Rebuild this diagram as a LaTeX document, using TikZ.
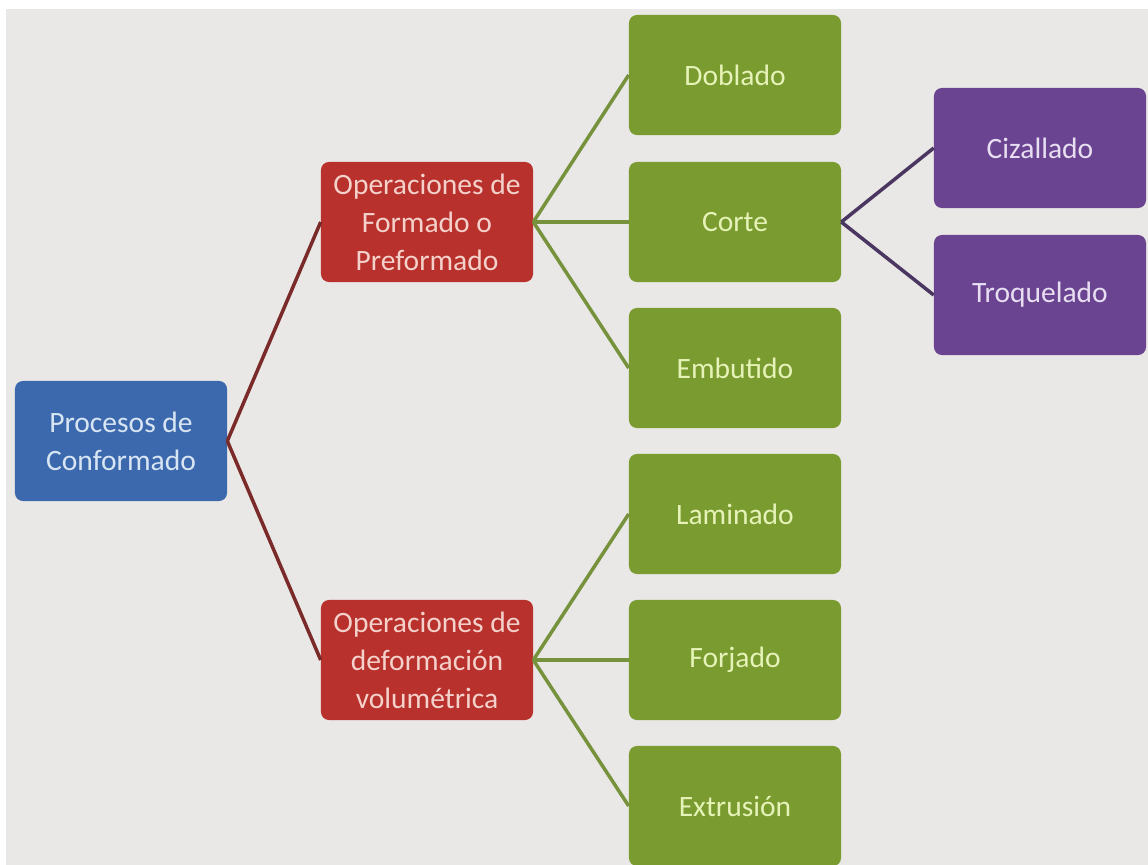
\documentclass[tikz,border=0pt]{standalone}
\usepackage{fontspec}
\setmainfont{Carlito}
\definecolor{fondo}{HTML}{E9E8E6}
\definecolor{azul}{HTML}{3C69AD}
\definecolor{azultxt}{HTML}{D8E5F3}
\definecolor{rojo}{HTML}{B8312D}
\definecolor{rojotxt}{HTML}{F4D2CB}
\definecolor{rojoosc}{HTML}{7A2A28}
\definecolor{verde}{HTML}{7A9B2F}
\definecolor{verdetxt}{HTML}{E6F3B8}
\definecolor{verdeosc}{HTML}{76923C}
\definecolor{morado}{HTML}{6A4490}
\definecolor{moradotxt}{HTML}{E8DEF1}
\definecolor{moradoosc}{HTML}{4A3660}
\tikzset{
  caja/.style={rounded corners=0.2cm, minimum width=5.3cm, minimum height=3cm,
    align=center, inner sep=2pt, font=\fontsize{21}{27}\selectfont},
  linea/.style={line width=2.5pt}
}
\begin{document}
\begin{tikzpicture}[x=0.025cm,y=-0.025cm]
    \useasboundingbox (0,0) rectangle (1148,865);
    \fill[white] (0,0) rectangle (1148,865);
    \fill[fondo] (6,9) rectangle (1148,865);
    \node[caja, fill=azul, text=azultxt] (proc) at (121,441) {Procesos de\\Conformado};
    \node[caja, fill=rojo, text=rojotxt] (formado) at (427,222) {Operaciones de\\Formado o\\Preformado};
    \node[caja, fill=rojo, text=rojotxt] (volum) at (427,660) {Operaciones de\\deformación\\volumétrica};
    \foreach \y/\n/\t in {75/doblado/Doblado, 222/corte/Corte, 368/embutido/Embutido,
                          514/laminado/Laminado, 660/forjado/Forjado, 806/extrusion/Extrusión}{
      \node[caja, fill=verde, text=verdetxt] (\n) at (735,\y) {\t};
    }
    \foreach \y/\n/\t in {148/cizallado/Cizallado, 295/troquelado/Troquelado}{
      \node[caja, fill=morado, text=moradotxt] (\n) at (1040,\y) {\t};
    }
    \draw[linea, rojoosc] (proc.east) -- (formado.west);
    \draw[linea, rojoosc] (proc.east) -- (volum.west);
    \foreach \n in {doblado, corte, embutido}{
      \draw[linea, verdeosc] (formado.east) -- (\n.west);
    }
    \foreach \n in {laminado, forjado, extrusion}{
      \draw[linea, verdeosc] (volum.east) -- (\n.west);
    }
    \draw[linea, moradoosc] (corte.east) -- (cizallado.west);
    \draw[linea, moradoosc] (corte.east) -- (troquelado.west);
\end{tikzpicture}
\end{document}
